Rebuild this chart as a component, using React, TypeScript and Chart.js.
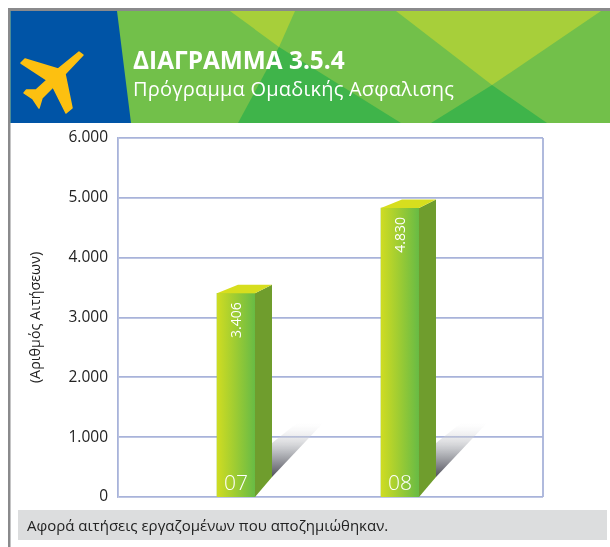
import React, { useEffect, useRef } from "react";
import { Chart, registerables } from "chart.js";

Chart.register(...registerables);

const categories = ["07", "08"];
const categoryPositions = [1, 2];
const applications = [3406, 4830];
const valueLabels = ["3.406", "4.830"];
const yTicksStep = 1000;
const yMax = 6000;
const yAxisTitle = "(Αριθμός Αιτήσεων)";
const heading = "ΔΙΑΓΡΑΜΜΑ 3.5.4";
const subheading = "Πρόγραμμα Ομαδικής Ασφαλισης";
const footnote = "Αφορά αιτήσεις εργαζομένων που αποζημιώθηκαν.";

const FONT = '"Open Sans", "Noto Sans", sans-serif';
const GRID = "#a8b3da";

const bar3d = {
  id: "bar3d",
  beforeDatasetsDraw(chart: any) {
    const { ctx } = chart;
    const base = chart.scales.y.getPixelForValue(0);
    chart.getDatasetMeta(0).data.forEach((el: any) => {
      const r = el.x + 19;
      const g = ctx.createLinearGradient(0, base - 20, 0, base - 74);
      g.addColorStop(0, "rgba(80,80,90,1)");
      g.addColorStop(0.45, "rgba(175,177,182,0.9)");
      g.addColorStop(1, "rgba(235,235,238,0)");
      ctx.save();
      ctx.fillStyle = g;
      ctx.beginPath();
      ctx.moveTo(r + 17, base - 20);
      ctx.lineTo(r + 17, base - 54);
      ctx.lineTo(r + 42, base - 74);
      ctx.lineTo(r + 68, base - 74);
      ctx.closePath();
      ctx.fill();
      ctx.restore();
    });
  },
  afterDatasetsDraw(chart: any) {
    const { ctx, chartArea } = chart;
    const base = chart.scales.y.getPixelForValue(0);
    chart.getDatasetMeta(0).data.forEach((el: any, i: number) => {
      const l = el.x - 19;
      const r = el.x + 19;
      const t = el.y;
      ctx.save();
      const front = ctx.createLinearGradient(l, 0, r, 0);
      front.addColorStop(0, "#cfdc22");
      front.addColorStop(1, "#68bb45");
      ctx.fillStyle = front;
      ctx.fillRect(l, t, r - l, base - t);
      ctx.fillStyle = "#6f9d2d";
      ctx.beginPath();
      ctx.moveTo(r, t);
      ctx.lineTo(r + 17, t - 8.5);
      ctx.lineTo(r + 17, base - 20);
      ctx.lineTo(r, base);
      ctx.closePath();
      ctx.fill();
      ctx.fillStyle = "#d7de1e";
      ctx.beginPath();
      ctx.moveTo(l, t);
      ctx.lineTo(l + 21, t - 8.5);
      ctx.lineTo(r + 17, t - 8.5);
      ctx.lineTo(r, t);
      ctx.closePath();
      ctx.fill();

      ctx.fillStyle = "#ffffff";
      ctx.font = `300 21px ${FONT}`;
      ctx.textAlign = "center";
      ctx.textBaseline = "alphabetic";
      ctx.fillText(categories[i], el.x, base - 7);

      ctx.translate(el.x + 1, t + 9);
      ctx.rotate(-Math.PI / 2);
      ctx.font = `14px ${FONT}`;
      ctx.textAlign = "right";
      ctx.textBaseline = "middle";
      ctx.fillText(valueLabels[i], 0, 0);
      ctx.restore();
    });
    ctx.save();
    ctx.strokeStyle = GRID;
    ctx.lineWidth = 1.8;
    ctx.beginPath();
    ctx.moveTo(chartArea.right, chartArea.top);
    ctx.lineTo(chartArea.right, chartArea.bottom);
    ctx.stroke();
    ctx.restore();
  },
};

export default function App() {
  const ref = useRef<HTMLCanvasElement>(null);
  useEffect(() => {
    const chart = new Chart(ref.current as HTMLCanvasElement, {
      type: "bar",
      data: {
        datasets: [
          {
            label: "Αιτήσεις",
            data: applications.map((y, i) => ({ x: categoryPositions[i], y })),
            barThickness: 38,
            backgroundColor: "#9ccb34",
          },
        ],
      },
      options: {
        responsive: false,
        animation: false,
        layout: { padding: { left: 0, right: 67, top: 138, bottom: 50 } },
        plugins: { legend: { display: false }, tooltip: { enabled: false } },
        scales: {
          x: { type: "linear", offset: false, min: 0.2805, max: 2.872, display: false },
          y: {
            min: 0,
            max: yMax,
            afterFit: (s: any) => {
              s.width = 118;
            },
            ticks: {
              stepSize: yTicksStep,
              padding: 10,
              color: "#222222",
              font: { family: FONT, size: 15.5 },
              callback: (v: any) => (v === 0 ? "0" : Number(v).toLocaleString("de-DE")),
            },
            grid: { color: GRID, lineWidth: 1.8, tickLength: 0 },
            border: { color: GRID, width: 1.8 },
            title: {
              display: true,
              text: yAxisTitle,
              color: "#222222",
              font: { family: FONT, size: 14.3 },
              padding: { top: 27, bottom: 0 },
            },
          },
        },
      },
      plugins: [bar3d],
    } as any);
    return () => chart.destroy();
  }, []);

  return (
    <div style={{ position: "absolute", left: 0, top: 0, width: 610, height: 547, overflow: "hidden", background: "#fff" }}>
      <svg width={610} height={547} style={{ position: "absolute", left: 0, top: 0 }}>
        <rect x={8} y={8} width={602} height={3} fill="#8a8a8c" />
        <rect x={8} y={8} width={2.5} height={539} fill="#8a8a8c" />
        <rect x={10.5} y={11} width={600} height={112} fill="#72c04a" />
        <polygon points="230,11 295,11 279,47" fill="#a7cf3a" />
        <polygon points="396,11 601,11 492,85" fill="#a7cf3a" />
        <polygon points="279,47 238,123 401,123" fill="#3fb44a" />
        <polygon points="492,85 431,123 547,123" fill="#3fb44a" />
        <polygon points="10.5,11 117,11 131,123 10.5,123" fill="#0054a6" />
        <polygon
          points="83,55 65,74 72,108 66,113 53,87 42,98 39,108 33,99 24,93 26.5,90 36,90 47,80 21,63 25,59 58,69 79,52"
          fill="#fdc010"
          stroke="#fdc010"
          strokeWidth={1.5}
          strokeLinejoin="round"
        />
        <rect x={18} y={510} width={589} height={30} fill="#dcddde" />
      </svg>
      <canvas ref={ref} width={610} height={547} style={{ position: "absolute", left: 0, top: 0 }} />
      <div style={{ position: "absolute", left: 133, top: 43, color: "#fff", font: `700 24.4px ${FONT}`, whiteSpace: "nowrap" }}>{heading}</div>
      <div style={{ position: "absolute", left: 133, top: 75, color: "#fff", font: `400 20px ${FONT}`, letterSpacing: 0.22, whiteSpace: "nowrap" }}>{subheading}</div>
      <div style={{ position: "absolute", left: 27, top: 515, color: "#222", font: `15px ${FONT}`, whiteSpace: "nowrap" }}>{footnote}</div>
    </div>
  );
}
